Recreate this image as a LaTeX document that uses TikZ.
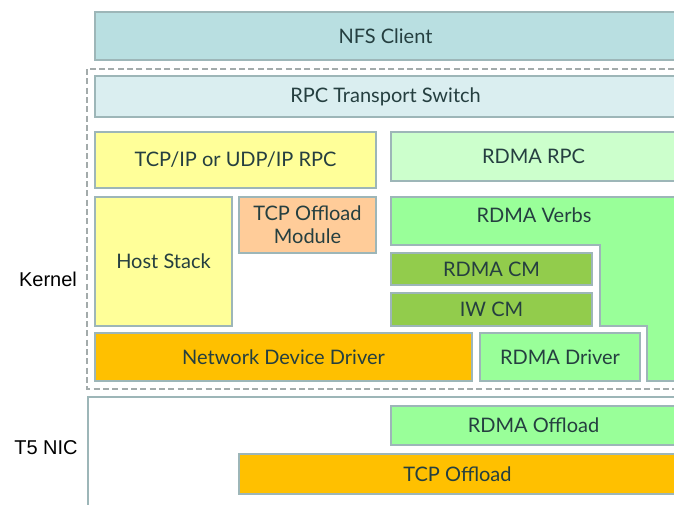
\documentclass[tikz,border=0pt]{standalone}
\usepackage{fontspec}
\setmainfont{Lato}
\newfontfamily\lblfont{Liberation Sans}
\definecolor{bordercol}{HTML}{9DB6B8}
\definecolor{textcol}{HTML}{253F40}
\definecolor{nfsfill}{HTML}{B9DFE1}
\definecolor{rpcfill}{HTML}{DAEEF0}
\definecolor{yellowfill}{HTML}{FFFF99}
\definecolor{lgreen}{HTML}{CCFFCC}
\definecolor{peach}{HTML}{FFCC99}
\definecolor{green}{HTML}{99FF99}
\definecolor{cmgreen}{HTML}{92CC4C}
\definecolor{amber}{HTML}{FFC000}
\definecolor{dashcol}{HTML}{A3ABAB}
\newcommand\blk[7]{\node[blk, fill=#6, minimum width={(#4-#2)*0.75pt}, minimum height={(#5-#3)*0.75pt}] (#1) at ({(#2+#4)/2},{(#3+#5)/2}) {};
\node[blktext] (#1-t) at ({(#2+#4)/2},{(#3+#5)/2}) {#7};}
\tikzset{
  blk/.style={draw=bordercol, line width=0.9pt, inner sep=0pt},
  blktext/.style={text=textcol, font=\fontsize{15}{17}\selectfont, align=center, inner sep=0pt},
  sidelbl/.style={font=\lblfont\fontsize{15}{17}\selectfont, text=black, inner sep=0pt}
}
\begin{document}
\begin{tikzpicture}[x=0.75pt,y=-0.75pt]
\useasboundingbox (0,0) rectangle (674,504);
\clip (0,0) rectangle (674,504);
% kernel dashed region
\draw[dashcol, line width=0.9pt, dash pattern=on 4.5pt off 2.5pt] (87,69) rectangle (700,389);
% NIC region
\node[draw=bordercol, line width=0.9pt, fill=white, minimum width={(720-88)*0.75pt}, minimum height={(530-397)*0.75pt}, inner sep=0pt] (nic) at ({(88+720)/2},{(397+530)/2}) {};
\blk{nfs}{95}{12}{676}{60}{nfsfill}{NFS Client}
\blk{rpc}{95}{76}{676}{117}{rpcfill}{RPC Transport Switch}
\blk{tcpip}{95}{132}{376}{188}{yellowfill}{TCP/IP or UDP/IP RPC}
\blk{rdmarpc}{391}{132}{676}{181}{lgreen}{RDMA RPC}
\blk{host}{95}{197}{232}{326}{yellowfill}{Host Stack}
\blk{toe}{239}{197}{376}{253}{peach}{TCP Offload\\[0pt]Module}
% RDMA Verbs L-shape
\draw[bordercol, line width=0.9pt, fill=green] (391,197) -- (680,197) -- (680,381) -- (647,381) -- (647,326) -- (600,326) -- (600,245) -- (391,245) -- cycle;
\node[blktext] (verbs) at (534,215) {RDMA Verbs};
\blk{rdmacm}{391}{253}{592}{285}{cmgreen}{RDMA CM}
\blk{iwcm}{391}{293}{592}{326}{cmgreen}{IW CM}
\blk{ndd}{95}{333}{472}{381}{amber}{Network Device Driver}
\blk{rdmadrv}{480}{333}{640}{381}{green}{RDMA Driver}
\blk{rdmaoff}{391}{406}{676}{445}{green}{RDMA Offload}
\blk{tcpoff}{239}{454}{676}{494}{amber}{TCP Offload}
\node[sidelbl] (kernel) at (48,279) {Kernel};
\node[sidelbl] (t5) at (46,448) {T5 NIC};
\end{tikzpicture}
\end{document}
